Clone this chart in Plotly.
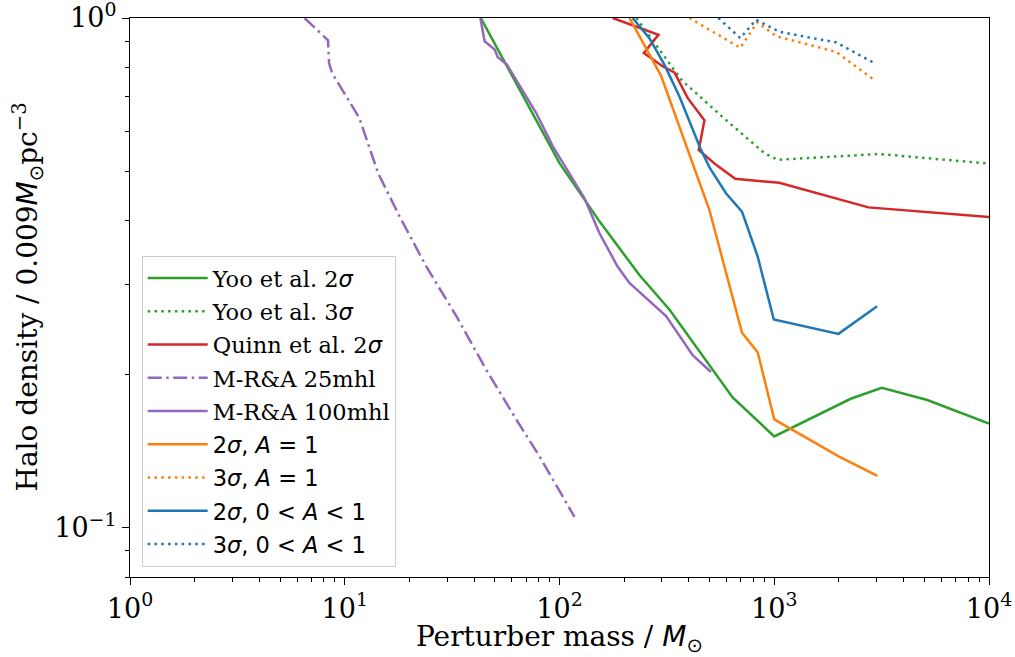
import plotly.graph_objects as go

# ---- data (perturber mass [Msun], halo density [0.009 Msun/pc^3]) ----
yoo2_mass = [43, 100, 153.5, 235.5, 324.8, 640, 1000, 2270, 3170, 5160, 10000]
yoo2_dens = [1.0, 0.519, 0.399, 0.313, 0.268, 0.180, 0.151, 0.179, 0.188, 0.178, 0.160]

yoo3_mass = [228, 372, 575, 900, 1036, 3077, 10000]
yoo3_dens = [1.0, 0.754, 0.639, 0.543, 0.527, 0.541, 0.518]

quinn_mass = [177, 289, 247, 302, 343, 395, 473, 445, 536, 658, 1055, 2005, 2745, 10000]
quinn_dens = [1.0, 0.927, 0.854, 0.804, 0.782, 0.697, 0.630, 0.551, 0.515, 0.4835, 0.475, 0.440, 0.425, 0.407]

mra25_mass = [6.5, 8.36, 8.45, 8.73, 11.7, 14.3, 18.0, 24.0, 33.1, 45.6, 62.9, 80.7, 117.4]
mra25_dens = [1.0, 0.904, 0.816, 0.780, 0.636, 0.496, 0.408, 0.325, 0.260, 0.204, 0.163, 0.138, 0.105]

mra100_mass = [42.8, 44.8, 49.9, 51.6, 56.9, 71.2, 77.9, 93.1, 130.7, 153.5, 186.7, 211.7, 313.5, 417, 507.6]
mra100_dens = [1.0, 0.90, 0.867, 0.838, 0.810, 0.691, 0.651, 0.560, 0.443, 0.378, 0.325, 0.302, 0.260, 0.218, 0.202]

a1_2s_mass = [211.7, 297.2, 498.6, 707.6, 838, 1000, 2005, 3023]
a1_2s_dens = [1.0, 0.770, 0.4204, 0.2414, 0.2206, 0.1631, 0.1378, 0.1263]

a1_3s_mass = [402.5, 695, 833.6, 1022, 1942, 2918]
a1_3s_dens = [1.0, 0.874, 0.981, 0.921, 0.858, 0.756]

a01_2s_mass = [219, 262.2, 307.8, 361.5, 456, 501, 596, 707.6, 838, 995, 1991, 3013]
a01_2s_dens = [1.0, 0.913, 0.810, 0.702, 0.551, 0.508, 0.453, 0.417, 0.340, 0.256, 0.240, 0.272]

a01_3s_mass = [549, 695, 822, 1055, 1507, 1937, 2971]
a01_3s_dens = [1.0, 0.913, 0.992, 0.940, 0.913, 0.896, 0.813]

x_tickvals = [1, 10, 100, 1000, 10000]
x_ticktext = ["10<sup>0</sup>", "10<sup>1</sup>", "10<sup>2</sup>", "10<sup>3</sup>", "10<sup>4</sup>"]
y_tickvals = [0.1, 1]
y_ticktext = ["10<sup>−1</sup>", "10<sup>0</sup>"]

SANS = "DejaVu Sans"
SERIF = "DejaVu Serif"


def m(s):
    return f'<span style="font-family:{SANS}">{s}</span>'


DOT = "2.5px,4.3px"
series = [
    ("Yoo et al. 2" + m("<i>σ</i>"), yoo2_mass, yoo2_dens, "#2ca02c", "solid"),
    ("Yoo et al. 3" + m("<i>σ</i>"), yoo3_mass, yoo3_dens, "#2ca02c", DOT),
    ("Quinn et al. 2" + m("<i>σ</i>"), quinn_mass, quinn_dens, "#d62728", "solid"),
    ("M-R&amp;A 25mhl", mra25_mass, mra25_dens, "#9467bd", "14px,4.5px,2.5px,4.5px"),
    ("M-R&amp;A 100mhl", mra100_mass, mra100_dens, "#9467bd", "solid"),
    (m("2<i>σ</i>, <i>A</i> = 1"), a1_2s_mass, a1_2s_dens, "#ff7f0e", "solid"),
    (m("3<i>σ</i>, <i>A</i> = 1"), a1_3s_mass, a1_3s_dens, "#ff7f0e", DOT),
    (m("2<i>σ</i>, 0 &lt; <i>A</i> &lt; 1"), a01_2s_mass, a01_2s_dens, "#1f77b4", "solid"),
    (m("3<i>σ</i>, 0 &lt; <i>A</i> &lt; 1"), a01_3s_mass, a01_3s_dens, "#1f77b4", DOT),
]

fig = go.Figure()
for i, (name, xs, ys, col, dash) in enumerate(series):
    fig.add_trace(go.Scatter(
        x=xs, y=ys, mode="lines", name=name, legendgroup=f"g{i}",
        line=dict(color=col, width=2.5, dash=dash),
    ))

tickfont = dict(family=SERIF, size=27, color="black")
xminor = [k * 10 ** e for e in range(0, 4) for k in range(2, 10)]
yminor = [0.08, 0.09] + [k / 10 for k in range(2, 10)]

fig.update_layout(
    width=1015, height=657,
    margin=dict(l=130, r=26, t=18, b=80, autoexpand=False),
    paper_bgcolor="white", plot_bgcolor="white",
    showlegend=True,
    legend=dict(
        x=0.0136, y=0.5743, xanchor="left", yanchor="top",
        bgcolor="rgba(255,255,255,0.85)", bordercolor="#cccccc", borderwidth=1,
        font=dict(family=SERIF, size=22.5, color="black"),
        traceorder="grouped", tracegroupgap=1, itemwidth=60,
    ),
    font=dict(family=SERIF, color="black"),
)

common = dict(
    type="log", tickmode="array", tickfont=tickfont,
    ticks="outside", ticklen=7, tickwidth=1.3, tickcolor="black",
    showgrid=False, zeroline=False, automargin=False, ticklabeloverflow="allow",
    showline=True, linecolor="black", linewidth=1.3, mirror=True,
)
fig.update_xaxes(
    range=[0, 4], tickvals=x_tickvals, ticktext=x_ticktext,
    minor=dict(tickmode="array", tickvals=xminor, ticks="outside", ticklen=4, tickwidth=1, tickcolor="black", showgrid=False),
    **common,
)
fig.update_yaxes(
    range=[-1.0969, 0], tickvals=y_tickvals, ticktext=y_ticktext,
    minor=dict(tickmode="array", tickvals=yminor, ticks="outside", ticklen=4, tickwidth=1, tickcolor="black", showgrid=False),
    **common,
)

fig.add_annotation(
    text="Perturber mass / " + m("<i>M</i><sub>⊙</sub>"),
    xref="paper", yref="paper", x=0.5, y=-0.11, xanchor="center", yanchor="middle",
    showarrow=False, font=dict(family=SERIF, size=28, color="black"),
)
fig.add_annotation(
    text="Halo density / 0.009" + m("<i>M</i><sub>⊙</sub>") + "pc<sup>−3</sup>",
    xref="paper", yref="paper", x=-0.1187, y=0.5, xanchor="center", yanchor="middle",
    textangle=-90, showarrow=False, font=dict(family=SERIF, size=28, color="black"),
)

fig.write_html("out.html")
